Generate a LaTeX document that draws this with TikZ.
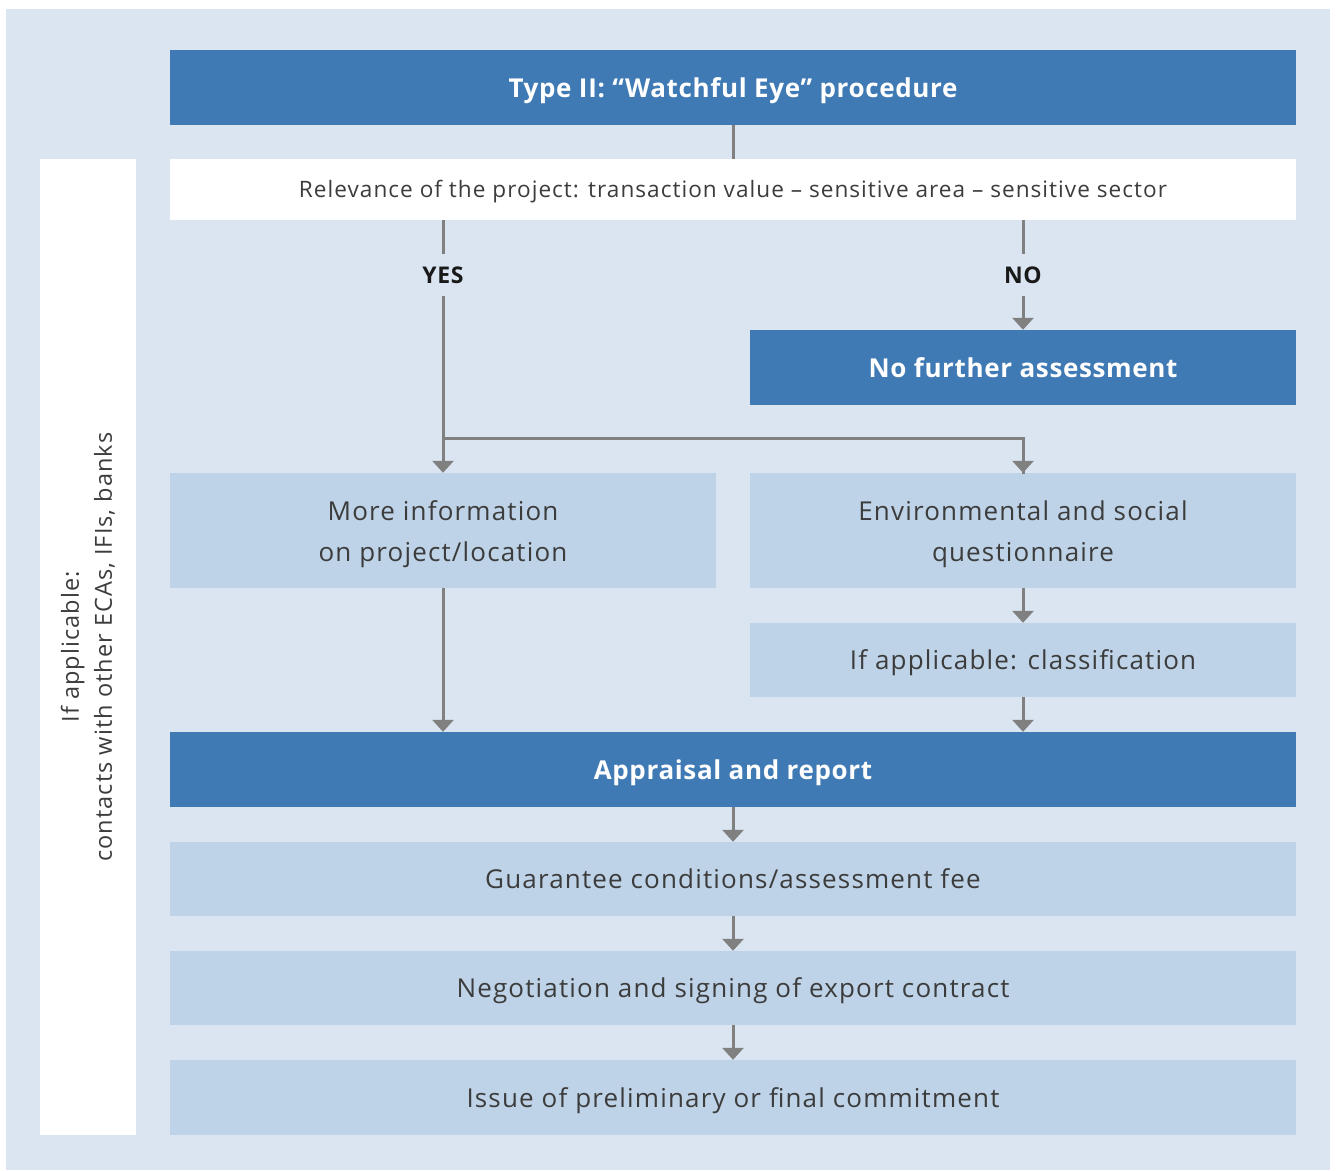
\documentclass[tikz,border=0pt]{standalone}
\usepackage{fontspec}
\setmainfont{Open Sans}[LetterSpace=4.5,BoldFeatures={LetterSpace=2.5}]
\usetikzlibrary{positioning,arrows.meta}
\definecolor{bgblue}{HTML}{DAE5F1}
\definecolor{lightblue}{HTML}{BED3E7}
\definecolor{darkblue}{HTML}{3F7AB5}
\definecolor{linegray}{HTML}{808080}
\definecolor{textgray}{HTML}{3C3C3C}
\newcommand{\tallstrut}{\rule{0pt}{28pt}}

\begin{document}
\begin{tikzpicture}[x=1pt,y=-1pt,
	dark_box/.style={fill=darkblue,text=white,font=\bfseries\fontsize{26}{30}\selectfont,minimum height=75pt,inner sep=0pt,text height=22pt,text depth=2.6pt},
	light_box/.style={fill=lightblue,text=textgray,align=center,font=\fontsize{26}{41}\selectfont,minimum height=74pt,inner sep=0pt},
	one_line/.style={text height=22pt,text depth=2.6pt},
	answer/.style={fill=bgblue,text=black!90,font=\bfseries\fontsize{23}{24}\selectfont\addfontfeature{LetterSpace=7},inner xsep=4pt,inner ysep=12pt},
	flow/.style={draw=linegray,line width=3pt},
	arr/.style={flow,-{Triangle[width=21pt,length=12pt]}}]

	\useasboundingbox (0,0) rectangle (1337,1170);
	\fill[bgblue] (6,9) rectangle (1330,1170);

	\node[fill=white,minimum width=96pt,minimum height=976pt,inner sep=0pt] (side) at (88,647) {};
	\node[rotate=90,align=center,text=textgray,font=\fontsize{23.5}{33}\selectfont] (sidetext) at (side) {If applicable:\\contacts with other ECAs, IFIs, banks};

	\node[dark_box,minimum width=1126pt] (type) at (733,87.5) {Type II: “Watchful Eye” procedure};
	\node[fill=white,text=textgray,font=\fontsize{22.6}{25}\selectfont,minimum width=1126pt,minimum height=61pt,inner sep=0pt,text height=18.5pt,text depth=3.1pt] (rel) at (733,189.5) {Relevance of the project: transaction value – sensitive area – sensitive sector};

	\node[answer] (yes) at (443,275) {YES};
	\node[answer] (no) at (1023,275) {NO};

	\node[dark_box,minimum width=546pt] (nofurther) at (1023,367.5) {No further assessment};
	\node[light_box,minimum width=546pt,minimum height=115pt] (more) at (443,530.5) {\tallstrut More information\\on project/location};
	\node[light_box,minimum width=546pt,minimum height=115pt] (env) at (1023,530.5) {\tallstrut Environmental and social\\questionnaire};
	\node[light_box,one_line,minimum width=546pt] (class) at (1023,660) {If applicable: classification};

	\node[dark_box,minimum width=1126pt] (appr) at (733,769.5) {Appraisal and report};
	\node[light_box,one_line,minimum width=1126pt] (guar) at (733,879) {Guarantee conditions/assessment fee};
	\node[light_box,one_line,minimum width=1126pt] (neg) at (733,988) {Negotiation and signing of export contract};
	\node[light_box,one_line,minimum width=1126pt,minimum height=75pt] (issue) at (733,1097.5) {Issue of preliminary or final commitment};

	\coordinate (split) at (443,438);

	\draw[flow] (type) -- (rel);
	\draw[flow] (rel.south -| yes) -- (yes);
	\draw[arr] (yes) -- (more);
	\draw[flow] (split) -| ([yshift=-1pt]env.north);
	\draw[arr] (split -| env) -- (env);
	\draw[flow] (rel.south -| no) -- (no);
	\draw[arr] (no) -- (nofurther);
	\draw[arr] (more) -- (more |- appr.north);
	\draw[arr] (env) -- (class);
	\draw[arr] (class) -- (class |- appr.north);
	\draw[arr] (appr) -- (guar);
	\draw[arr] (guar) -- (neg);
	\draw[arr] (neg) -- (issue);
\end{tikzpicture}
\end{document}
